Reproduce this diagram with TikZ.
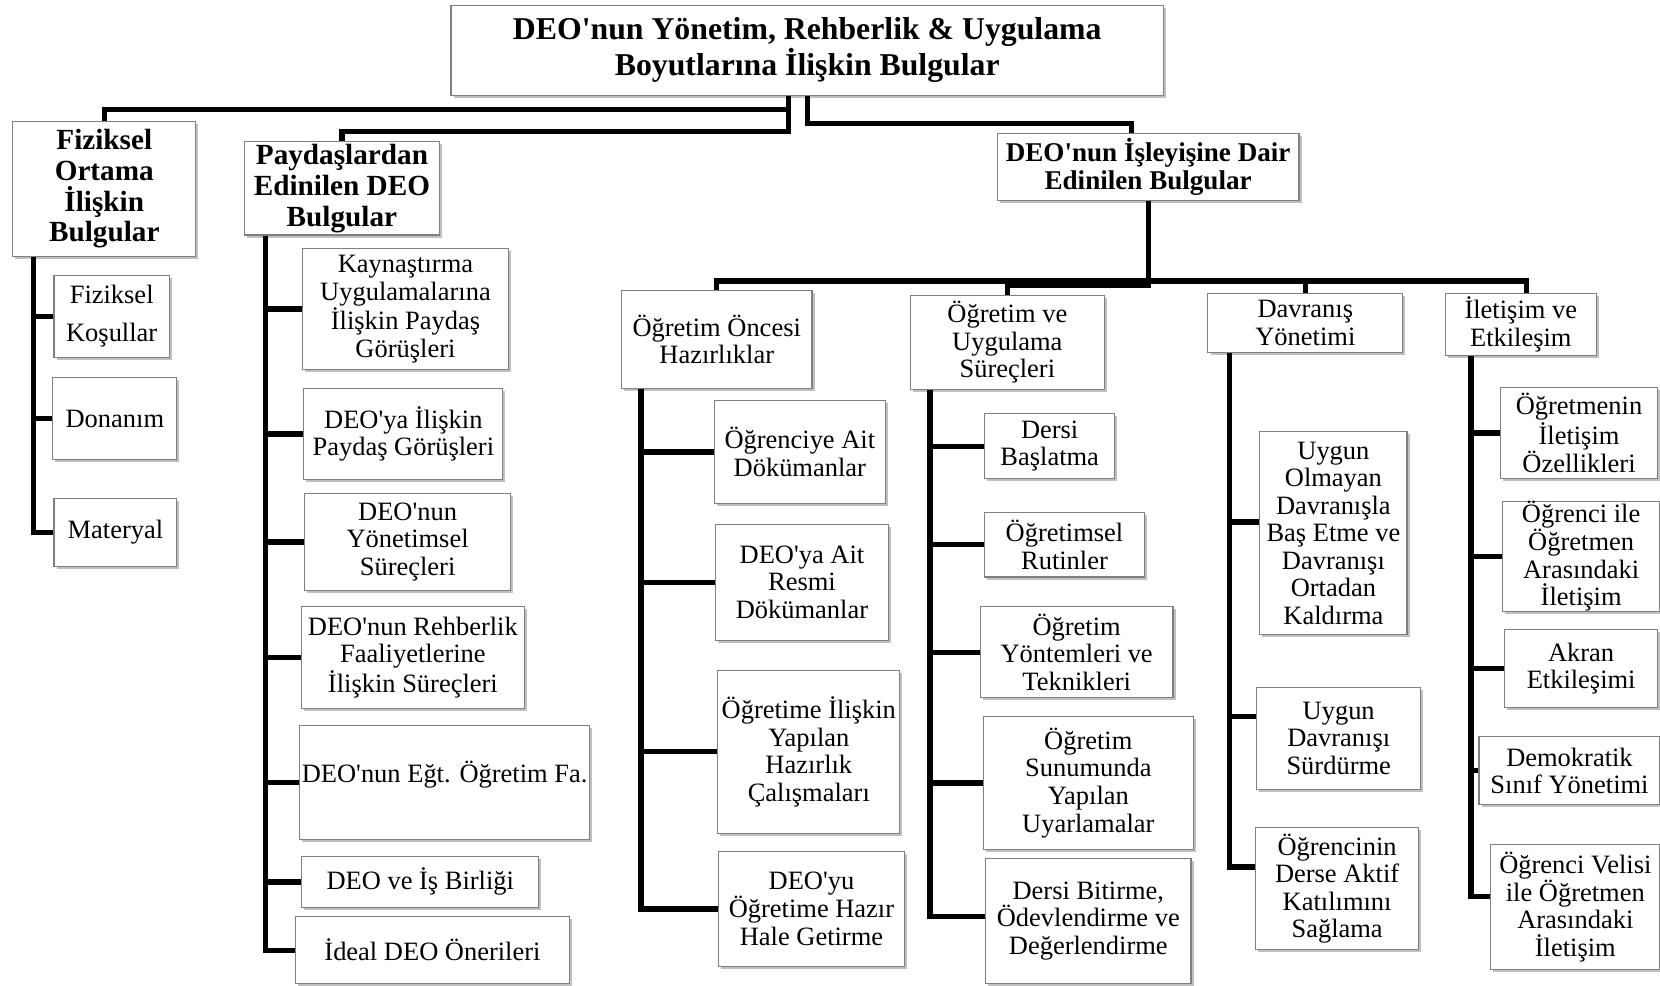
\documentclass[tikz,border=0pt]{standalone}
\usepackage{fontspec}
\setmainfont{Liberation Serif}[Ligatures=TeXOff]
\usetikzlibrary{shadows}
\begin{document}
\begin{tikzpicture}[x=0.5pt, y=-0.5pt]
\tikzset{kutu/.style={draw=black!50, line width=0.5pt, fill=white, align=center, inner sep=0pt,
    drop shadow={shadow xshift=1.2pt, shadow yshift=-1.2pt, fill=black!45, opacity=0.55},
    font=\fontsize{12.5}{13}\selectfont},
  boyut/.style 2 args={minimum width=#1*0.5pt, minimum height=#2*0.5pt},
  anakutu/.style={kutu, font=\bfseries\fontsize{13.8}{14.5}\selectfont},
  baslik/.style={kutu, font=\bfseries\fontsize{15}{16}\selectfont},
  bag/.style={line width=2.5pt}}
\useasboundingbox (0,0) rectangle (1568,931);
\node[baslik, boyut={673}{85}] (kok) at (762.5,47.5) {DEO'nun Yönetim, Rehberlik \& Uygulama\\Boyutlarına İlişkin Bulgular};
\node[anakutu, boyut={173}{127}] (fiz) at (98.5,178.5) {Fiziksel\\Ortama\\İlişkin\\Bulgular};
\node[anakutu, boyut={184}{88}] (pay) at (323,178) {Paydaşlardan\\Edinilen DEO\\Bulgular};
\node[anakutu, boyut={285}{63}, font=\bfseries\fontsize{12.8}{13.5}\selectfont] (isl) at (1084.5,157.5) {DEO'nun İşleyişine Dair\\Edinilen Bulgular};
\node[kutu, boyut={109}{78}] (fk) at (105.5,299) {Fiziksel\\[5pt]Koşullar};
\node[kutu, boyut={117}{77}] (don) at (108.5,395.5) {Donanım};
\node[kutu, boyut={116}{64}] (mat) at (109,503) {Materyal};
\node[kutu, boyut={194}{114}] (p1) at (383,292) {Kaynaştırma\\Uygulamalarına\\İlişkin Paydaş\\Görüşleri};
\node[kutu, boyut={188}{86}] (p2) at (381,410) {DEO'ya İlişkin\\Paydaş Görüşleri};
\node[kutu, boyut={194}{92}] (p3) at (385,512) {DEO'nun\\Yönetimsel\\Süreçleri};
\node[kutu, boyut={210}{96}] (p4) at (390,621) {DEO'nun Rehberlik\\Faaliyetlerine\\İlişkin Süreçleri};
\node[kutu, boyut={274}{108}, text depth=10pt] (p5) at (420,739) {DEO'nun Eğt. Öğretim Fa.};
\node[kutu, boyut={224}{48}] (p6) at (397,833) {DEO ve İş Birliği};
\node[kutu, boyut={259}{63}] (p7) at (408.5,897.5) {İdeal DEO Önerileri};
\node[kutu, boyut={180}{93}] (ogo) at (677,320.5) {Öğretim Öncesi\\Hazırlıklar};
\node[kutu, boyut={161}{98}] (o1) at (755.5,427) {Öğrenciye Ait\\Dökümanlar};
\node[kutu, boyut={163}{110}] (o2) at (757.5,550) {DEO'ya Ait\\Resmi\\Dökümanlar};
\node[kutu, boyut={172}{154}] (o3) at (764,710) {Öğretime İlişkin\\Yapılan\\Hazırlık\\Çalışmaları};
\node[kutu, boyut={175}{109}] (o4) at (766.5,858.5) {DEO'yu\\Öğretime Hazır\\Hale Getirme};
\node[kutu, boyut={183}{89}] (ogu) at (951.5,323.5) {Öğretim ve\\Uygulama\\Süreçleri};
\node[kutu, boyut={123}{61}] (u1) at (991.5,421.5) {Dersi\\Başlatma};
\node[kutu, boyut={151}{61}] (u2) at (1005.5,514.5) {Öğretimsel\\Rutinler};
\node[kutu, boyut={182}{86}] (u3) at (1017,616) {Öğretim\\Yöntemleri ve\\Teknikleri};
\node[kutu, boyut={198}{125}] (u4) at (1028,739.5) {Öğretim\\Sunumunda\\Yapılan\\Uyarlamalar};
\node[kutu, boyut={194}{118}] (u5) at (1028,870) {Dersi Bitirme,\\Ödevlendirme ve\\Değerlendirme};
\node[kutu, boyut={184}{56}] (dav) at (1233,305) {Davranış\\Yönetimi};
\node[kutu, boyut={139}{191}] (d1) at (1259.5,503.5) {Uygun\\Olmayan\\Davranışla\\Baş Etme ve\\Davranışı\\Ortadan\\Kaldırma};
\node[kutu, boyut={155}{97}] (d2) at (1264.5,697.5) {Uygun\\Davranışı\\Sürdürme};
\node[kutu, boyut={154}{115}] (d3) at (1263,839.5) {Öğrencinin\\Derse Aktif\\Katılımını\\Sağlama};
\node[kutu, boyut={143}{59}] (ile) at (1436.5,306.5) {İletişim ve\\Etkileşim};
\node[kutu, boyut={149}{86}] (i1) at (1491.5,409) {Öğretmenin\\İletişim\\Özellikleri};
\node[kutu, boyut={149}{99}] (i2) at (1493.5,525.5) {Öğrenci ile\\Öğretmen\\Arasındaki\\İletişim};
\node[kutu, boyut={145}{73}] (i3) at (1493.5,631.5) {Akran\\Etkileşimi};
\node[kutu, boyut={171}{64}] (i4) at (1482.5,728) {Demokratik\\Sınıf Yönetimi};
\node[kutu, boyut={160}{118}] (i5) at (1488,857) {Öğrenci Velisi\\ile Öğretmen\\Arasındaki\\İletişim};
\draw[bag] ([xshift=-8.75pt]kok.south) -- ++(0,13) -| (fiz.north);
\draw[bag] ([xshift=-8.75pt]kok.south) -- ++(0,34) -| (pay.north);
\draw[bag] (kok.south) -- ++(0,26) -| ([xshift=-7.75pt]isl.north);
\draw[bag] (isl.south) -- ++(0,76) -| (ogo.north);
\draw[bag] (isl.south) -- ++(0,80) -| (ogu.north);
\draw[bag] (isl.south) -- ++(0,76) -| (dav.north);
\draw[bag] (isl.south) -- ++(0,76) -| ([xshift=2.75pt]ile.north);
\draw[bag] ([xshift=10pt]fiz.south west) |- (fk.west);
\draw[bag] ([xshift=10pt]fiz.south west) |- (don.west);
\draw[bag] ([xshift=10pt]fiz.south west) |- (mat.west);
\draw[bag] ([xshift=10pt]pay.south west) |- (p1.west);
\draw[bag] ([xshift=10pt]pay.south west) |- (p2.west);
\draw[bag] ([xshift=10pt]pay.south west) |- (p3.west);
\draw[bag] ([xshift=10pt]pay.south west) |- (p4.west);
\draw[bag] ([xshift=10pt]pay.south west) |- (p5.west);
\draw[bag] ([xshift=10pt]pay.south west) |- (p6.west);
\draw[bag] ([xshift=10pt]pay.south west) |- (p7.west);
\draw[bag] ([xshift=9.5pt]ogo.south west) |- (o1.west);
\draw[bag] ([xshift=9.5pt]ogo.south west) |- (o2.west);
\draw[bag] ([xshift=9.5pt]ogo.south west) |- (o3.west);
\draw[bag] ([xshift=9.5pt]ogo.south west) |- (o4.west);
\draw[bag] ([xshift=9.5pt]ogu.south west) |- (u1.west);
\draw[bag] ([xshift=9.5pt]ogu.south west) |- (u2.west);
\draw[bag] ([xshift=9.5pt]ogu.south west) |- (u3.west);
\draw[bag] ([xshift=9.5pt]ogu.south west) |- (u4.west);
\draw[bag] ([xshift=9.5pt]ogu.south west) |- ([yshift=2pt]u5.west);
\draw[bag] ([xshift=10.5pt]dav.south west) |- ([yshift=5.25pt]d1.west);
\draw[bag] ([xshift=10.5pt]dav.south west) |- ([yshift=10.25pt]d2.west);
\draw[bag] ([xshift=10.5pt]dav.south west) |- ([yshift=10.25pt]d3.west);
\draw[bag] ([xshift=12.5pt]ile.south west) |- (i1.west);
\draw[bag] ([xshift=12.5pt]ile.south west) |- (i2.west);
\draw[bag] ([xshift=12.5pt]ile.south west) |- (i3.west);
\draw[bag] ([xshift=12.5pt]ile.south west) |- (i4.west);
\draw[bag] ([xshift=12.5pt]ile.south west) |- ([yshift=5pt]i5.west);
\end{tikzpicture}
\end{document}
